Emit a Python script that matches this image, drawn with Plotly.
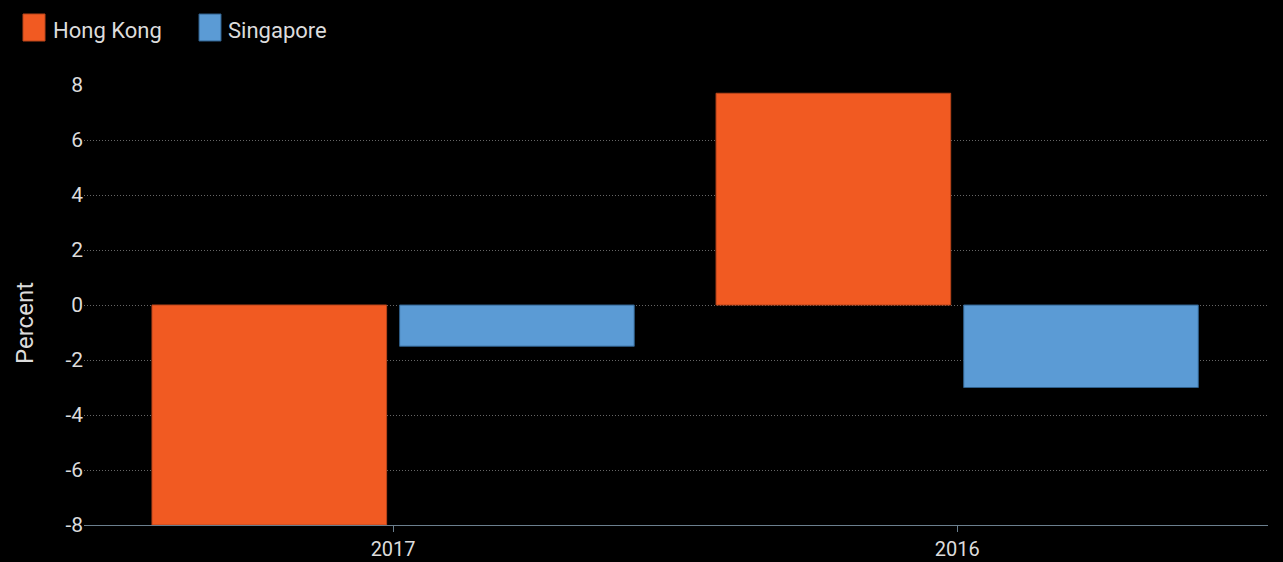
import plotly.graph_objects as go

categories = ["2017", "2016"]
hong_kong = [-8.0, 7.7]
singapore = [-1.5, -3.0]
series_names = ["Hong Kong", "Singapore"]
y_ticks = [-8, -6, -4, -2, 0, 2, 4, 6, 8]
y_tick_text = ["-8", "-6", "-4", "-2", "0", "2", "4", "6", "8"]

colors = ["#F15A22", "#5B9BD5"]
edges = ["#B8441A", "#2F5F8A"]

fig = go.Figure()
for name, vals, c, e in zip(series_names, [hong_kong, singapore], colors, edges):
    fig.add_trace(go.Bar(x=categories, y=vals, name=name,
                         marker=dict(color=c, line=dict(color=e, width=1))))

font = "Roboto, Noto Sans, sans-serif"
txt = "#dcdcdc"

# custom legend (pixel positions converted to paper coords)
L, R, T, B, W, H = 84, 15, 85, 37, 1283, 562
pw, ph = W - L - R, H - T - B
def px(x):
    return (x - L) / pw
def py(y):
    return (H - B - y) / ph

shapes = []
annotations = []
for (sx, tx), name, c, e in zip([(23, 51), (199, 226)], series_names, colors, edges):
    shapes.append(dict(type="rect", xref="paper", yref="paper",
                       x0=px(sx), x1=px(sx + 22), y0=py(41), y1=py(14),
                       fillcolor=c, line=dict(color=e, width=1)))
    annotations.append(dict(xref="paper", yref="paper", x=px(tx), y=py(30),
                            xanchor="left", yanchor="middle", showarrow=False,
                            text=name, font=dict(family=font, size=22, color=txt)))

# y-axis title
annotations.append(dict(xref="paper", yref="paper", x=px(25), y=py(323),
                        xanchor="center", yanchor="middle", showarrow=False,
                        textangle=-90, text="Percent",
                        font=dict(family=font, size=24, color=txt)))

fig.update_layout(
    width=W, height=H,
    paper_bgcolor="black", plot_bgcolor="black",
    margin=dict(l=L, r=R, t=T, b=B, autoexpand=False),
    barmode="group", bargap=0.122, bargroupgap=0.0525,
    font=dict(family=font, color=txt, size=20),
    showlegend=False,
    shapes=shapes, annotations=annotations,
    xaxis=dict(type="category", range=[-0.548, 1.551], automargin=False,
               showline=True, linecolor="#6b7f8e", linewidth=1,
               ticks="outside", tickcolor="#6b7f8e", ticklen=6,
               showgrid=False, zeroline=False, ticklabelstandoff=0,
               tickfont=dict(size=20, color=txt)),
    yaxis=dict(range=[-8, 8], tickvals=y_ticks, ticktext=y_tick_text, automargin=False,
               showgrid=True, gridcolor="#666666", griddash="1px,2px", gridwidth=1,
               zeroline=False, showline=False, ticks="",
               tickfont=dict(size=21, color=txt)),
)
fig.write_html("out.html", config={"displayModeBar": False},
               post_script="document.body.style.margin='0';")
